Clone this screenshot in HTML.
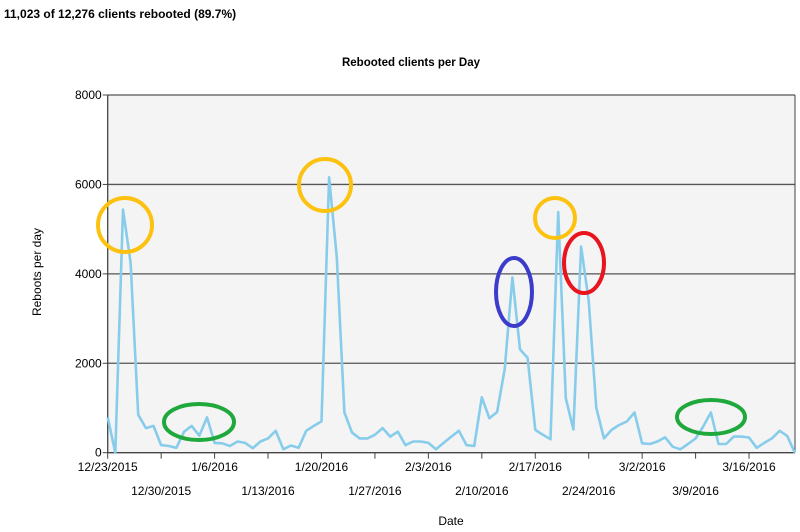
<!DOCTYPE html>
<html><head><meta charset="utf-8"><style>
body{margin:0;background:#fff;font-family:"Liberation Sans",Arial,sans-serif}
#wrap{position:relative;width:800px;height:532px;overflow:hidden}
</style></head><body>
<div id="wrap">
<svg id="chart" width="800" height="532" xmlns="http://www.w3.org/2000/svg">
<text x="4" y="18" font-size="12" font-weight="bold" fill="#000">11,023 of 12,276 clients rebooted (89.7%)</text>
<text x="411" y="66" font-size="11.5" font-weight="bold" text-anchor="middle">Rebooted clients per Day</text>
<text x="451" y="525" font-size="12" text-anchor="middle">Date</text>
<text transform="translate(41,272) rotate(-90)" font-size="12" text-anchor="middle">Reboots per day</text>
<rect x="107.7" y="95" width="687" height="357.7" fill="#f4f4f4"/>
<g id="grid"></g><g id="axes"></g><g id="series"></g>
<g fill="none" stroke-width="4">
<circle cx="125" cy="225" r="27" stroke="#fdc210"/>
<circle cx="325" cy="185" r="26" stroke="#fdc210"/>
<circle cx="555" cy="218" r="20" stroke="#fdc210"/>
<ellipse cx="514" cy="292" rx="18" ry="34" stroke="#3c3ccc"/>
<ellipse cx="584" cy="263" rx="20" ry="30" stroke="#e8141e"/>
<ellipse cx="199" cy="422" rx="35" ry="18" stroke="#1fa83c"/>
<ellipse cx="711" cy="417" rx="34" ry="17" stroke="#1fa83c"/>
</g>
</svg>
</div>
<script>
const dayValues = [790,0,5440,4250,850,550,600,170,150,110,470,600,380,790,220,210,150,250,220,100,250,320,490,75,160,110,490,600,700,6160,4370,900,450,320,320,400,550,360,470,170,250,250,220,75,220,360,490,170,150,1240,770,910,1870,3920,2310,2120,510,400,300,5380,1220,520,4610,3400,1000,320,510,620,700,900,210,195,250,345,135,75,195,320,585,900,195,195,360,360,340,110,220,320,490,375,0];
const yTicks = [0,2000,4000,6000,8000];
const xTickLabels = ["12/23/2015","12/30/2015","1/6/2016","1/13/2016","1/20/2016","1/27/2016","2/3/2016","2/10/2016","2/17/2016","2/24/2016","3/2/2016","3/9/2016","3/16/2016"];
const NS="http://www.w3.org/2000/svg";
const X0=107.7, DX=7.635, Y0=452.7, YMAX=8000, PH=357.7;
const xs=d=>X0+d*DX, ys=v=>Y0-v/YMAX*PH;
function mk(tag,attrs,parent){const e=document.createElementNS(NS,tag);for(const k in attrs)e.setAttribute(k,attrs[k]);parent.appendChild(e);return e;}
const grid=document.getElementById('grid'),axes=document.getElementById('axes'),series=document.getElementById('series');
yTicks.forEach(t=>{
  const y=ys(t);
  if(t>0){const l=mk('line',{x1:X0,x2:795,y1:y,y2:y,stroke:'#555','stroke-width':1.3},grid);
  
  }
  const tk=mk('line',{x1:X0-5,x2:X0,y1:y,y2:y,stroke:'#444'},axes);
  
  
  const tx=mk('text',{x:X0-6,y:y+4,'font-size':12,'text-anchor':'end'},axes);
  tx.textContent=t;
  
  
});
const ya=mk('line',{x1:X0,x2:X0,y1:95,y2:Y0,stroke:'#444','stroke-width':1.3},axes);


const xa=mk('line',{x1:X0,x2:795,y1:Y0,y2:Y0,stroke:'#444','stroke-width':1.3},axes);


const rb=mk('line',{x1:795,x2:795,y1:95,y2:Y0,stroke:'#444','stroke-width':1},axes);


xTickLabels.forEach((lab,i)=>{
  const x=xs(i*7);
  const tk=mk('line',{x1:x,x2:x,y1:Y0,y2:Y0+6,stroke:'#444'},axes);
  
  
  const tx=mk('text',{x:x,y:i%2===0?471:495,'font-size':12,'text-anchor':'middle'},axes);
  tx.textContent=lab;
  
  
});
const pts=dayValues.map((v,i)=>xs(i).toFixed(1)+','+ys(v).toFixed(1)).join(' ');
const pl=mk('polyline',{points:pts,fill:'none',stroke:'#87cdeb','stroke-width':2.6,'stroke-linejoin':'round'},series);


</script>
</body></html>
